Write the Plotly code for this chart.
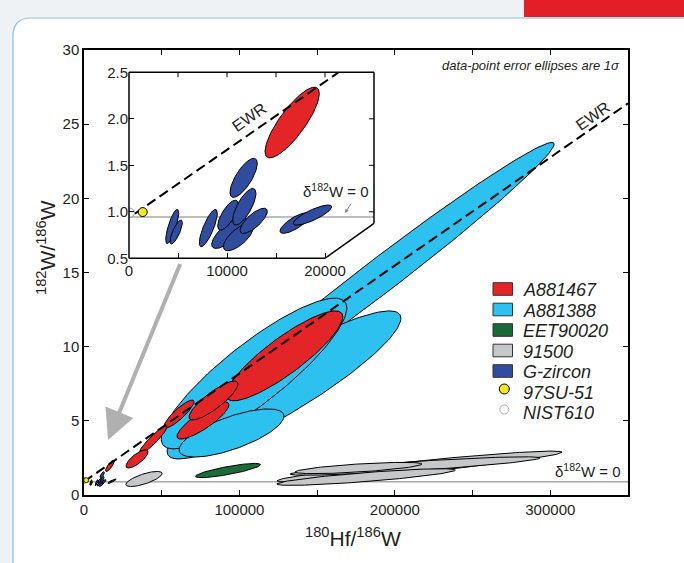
import numpy as np
import plotly.graph_objects as go

# ------------------------------------------------------------------ data
# error ellipses: centre x, centre y, 1-sigma x, 1-sigma y, correlation
# A881467 (red)
a467_x = [129000, 76560, 83320, 61120, 44390, 34100, 16650]
a467_y = [9.38, 5.02, 6.37, 5.46, 3.71, 2.43, 1.96]
a467_sx = [37510, 16730, 15760, 9650, 9010, 7075, 2770]
a467_sy = [3.03, 1.25, 1.31, 0.94, 0.945, 0.61, 0.38]
a467_rho = [0.87, 0.85, 0.85, 0.88, 0.93, 0.77, 0.82]

# A881388 (light blue)
a388_x = [190450, 128680, 109380, 94900]
a388_y = [14.76, 7.42, 8.19, 4.18]
a388_sx = [112020, 75210, 59710, 33780]
a388_sy = [9.01, 4.99, 5.08, 1.62]
a388_rho = [0.987, 0.90, 0.868, 0.70]

# EET90020 (green)
eet_x = [92650]
eet_y = [1.65]
eet_sx = [20910]
eet_sy = [0.48]
eet_rho = [0.82]

# 91500 (grey)
z915_x = [38600, 215860, 212970, 181440, 176610]
z915_y = [1.08, 1.92, 1.955, 1.21, 1.82]
z915_sx = [11650, 91690, 80430, 57460, 40860]
z915_sy = [0.51, 1.04, 0.62, 0.56, 0.38]
z915_rho = [0.72, 0.93, 0.87, 0.84, 0.70]

# G-zircon (dark blue)
gz_x = [4408, 4811, 8092, 10220, 11156, 10102, 11766, 11699, 12720, 16939, 18725]
gz_y = [0.842, 0.782, 0.825, 0.776, 0.728, 0.964, 1.054, 1.365, 0.903, 0.879, 0.965]
gz_sx = [663, 628, 918, 1786, 1530, 1051, 1188, 1393, 1393, 1531, 1960]
gz_sy = [0.184, 0.129, 0.201, 0.17, 0.147, 0.161, 0.197, 0.21, 0.135, 0.111, 0.108]
gz_rho = [0.77, 0.78, 0.79, 0.75, 0.70, 0.72, 0.73, 0.74, 0.75, 0.77, 0.82]

# single points
su_x, su_y = [1400], [0.997]          # 97SU-51
nist_x, nist_y = [100], [0.99]        # NIST610

# reference lines
ewr_main_x = [0, 350000]
ewr_main_y = [0.90, 26.4]
ewr_inset_x = [600, 21400]
ewr_inset_y = [0.98, 2.5]
delta_main_y = 0.90
delta_inset_y = 0.945

legend_names = ["A881467", "A881388", "EET90020", "91500", "G-zircon", "97SU-51", "NIST610"]

main_xticks = [0, 100000, 200000, 300000]
main_xminor = [50000, 150000, 250000, 350000]
main_yticks = [0, 5, 10, 15, 20, 25, 30]
inset_xticks = [0, 10000, 20000]
inset_xminor = [5000, 15000]
inset_yticks = [0.5, 1.0, 1.5, 2.0, 2.5]

# ------------------------------------------------------------------ style
RED = "#e42527"
LBLUE = "#2cc1ef"
GREEN = "#1b6b3a"
GREY = "#c5c7c9"
DBLUE = "#2f4c9f"
YELLOW = "#f2e81c"
FONT = "Liberation Sans, Arial, sans-serif"
TXT = "#231f20"

W, H = 684, 563
L, R, T, B = 84, 628, 50, 495          # main plot area in pixels


def px(xp):
    return (xp - L) / (R - L)


def py(yp):
    return (B - yp) / (B - T)


# inset box in pixels
IL, IR, IT, IB = 129, 374, 72.3, 258.3
I_BOTTOM_END = 325      # bottom axis stops at x = 20000
I_RIGHT_END = 223.3     # right side stops here, bevel to bottom

fig = go.Figure()

t = np.linspace(0, 2 * np.pi, 160)


def add_ellipses(cx, cy, sx, sy, rho, color, xa="x", ya="y"):
    for i in range(len(cx)):
        r = rho[i]
        ex = cx[i] + sx[i] * np.cos(t)
        ey = cy[i] + sy[i] * (r * np.cos(t) + np.sqrt(1 - r * r) * np.sin(t))
        fig.add_trace(go.Scatter(
            x=ex, y=ey, mode="lines", fill="toself", fillcolor=color,
            line=dict(color="black", width=1), xaxis=xa, yaxis=ya,
            hoverinfo="skip", showlegend=False))


# main panel ---------------------------------------------------------
fig.add_trace(go.Scatter(x=[0, 350000], y=[delta_main_y, delta_main_y], mode="lines",
                         line=dict(color="#a8a8a8", width=1.5), showlegend=False, hoverinfo="skip"))
add_ellipses(z915_x, z915_y, z915_sx, z915_sy, z915_rho, GREY)
add_ellipses(eet_x, eet_y, eet_sx, eet_sy, eet_rho, GREEN)
add_ellipses(a388_x, a388_y, a388_sx, a388_sy, a388_rho, LBLUE)
add_ellipses(a467_x, a467_y, a467_sx, a467_sy, a467_rho, RED)
add_ellipses(gz_x, gz_y, gz_sx, gz_sy, gz_rho, DBLUE)
fig.add_trace(go.Scatter(x=ewr_main_x, y=ewr_main_y, mode="lines",
                         line=dict(color="black", width=2, dash="10px,5px"),
                         showlegend=False, hoverinfo="skip"))
fig.add_trace(go.Scatter(x=nist_x, y=nist_y, mode="markers",
                         marker=dict(size=6, color="white", line=dict(color="#888", width=1)),
                         showlegend=False, hoverinfo="skip"))
fig.add_trace(go.Scatter(x=su_x, y=su_y, mode="markers",
                         marker=dict(size=5, color=YELLOW, line=dict(color="black", width=0.8)),
                         showlegend=False, hoverinfo="skip"))

# inset panel --------------------------------------------------------
fig.add_trace(go.Scatter(x=[0, 25000], y=[delta_inset_y, delta_inset_y], mode="lines",
                         line=dict(color="#a8a8a8", width=1.5), xaxis="x2", yaxis="y2",
                         showlegend=False, hoverinfo="skip"))
add_ellipses(a467_x[-1:], a467_y[-1:], a467_sx[-1:], a467_sy[-1:], a467_rho[-1:], RED, "x2", "y2")
add_ellipses(gz_x, gz_y, gz_sx, gz_sy, gz_rho, DBLUE, "x2", "y2")
fig.add_trace(go.Scatter(x=ewr_inset_x, y=ewr_inset_y, mode="lines",
                         line=dict(color="black", width=2, dash="10px,5px"),
                         xaxis="x2", yaxis="y2", showlegend=False, hoverinfo="skip"))
fig.add_trace(go.Scatter(x=nist_x, y=nist_y, mode="markers", xaxis="x2", yaxis="y2",
                         marker=dict(size=9, color="white", line=dict(color="#999", width=1)),
                         showlegend=False, hoverinfo="skip"))
fig.add_trace(go.Scatter(x=su_x, y=su_y, mode="markers", xaxis="x2", yaxis="y2",
                         marker=dict(size=9, color=YELLOW, line=dict(color="black", width=1)),
                         showlegend=False, hoverinfo="skip"))

# ------------------------------------------------------------------ shapes
shapes = []
# card background with rounded top-left corner
r = 18
cl, ct = 13, 18
shapes.append(dict(
    type="path", xref="paper", yref="paper", layer="below",
    path=(f"M {px(cl)},{py(600)} L {px(cl)},{py(ct + r)} "
          f"Q {px(cl)},{py(ct)} {px(cl + r)},{py(ct)} L {px(720)},{py(ct)} "
          f"L {px(720)},{py(600)} Z"),
    fillcolor="white", line=dict(color="#8ec0dc", width=1.2)))
# red bar at top right
shapes.append(dict(type="rect", xref="paper", yref="paper", layer="below",
                   x0=px(524), x1=px(690), y0=py(-5), y1=py(17),
                   fillcolor="#e41e26", line=dict(width=0)))


def seg(x0, y0, x1, y1, w=1.5, c="black"):
    shapes.append(dict(type="line", xref="paper", yref="paper",
                       x0=px(x0), y0=py(y0), x1=px(x1), y1=py(y1),
                       line=dict(color=c, width=w)))


# inset frame
seg(IL, IT, IR, IT)
seg(IL, IT, IL, IB)
seg(IL, IB, I_BOTTOM_END, IB)
seg(IR, IT, IR, I_RIGHT_END)
seg(IR, I_RIGHT_END, I_BOTTOM_END, IB)
# inset mirrored ticks (top and right)
for xv in [5000, 10000, 15000, 20000]:
    xp = IL + (IR - IL) * xv / 25000
    seg(xp, IT, xp, IT + 5, w=1)
for yv in inset_yticks[1:4]:
    yp = IB - (IB - IT) * (yv - 0.5) / 2.0
    seg(IR, yp, IR - 5, yp, w=1)

# manual legend swatches
leg_colors = [RED, LBLUE, GREEN, GREY, DBLUE]
leg_rows = [290, 310.5, 331, 351.5, 372, 392.5, 413]
for i, c in enumerate(leg_colors):
    yc = leg_rows[i] - 1
    shapes.append(dict(type="rect", xref="paper", yref="paper",
                       x0=px(493), x1=px(512.5), y0=py(yc + 6.3), y1=py(yc - 6.3),
                       fillcolor=c, line=dict(color="#333", width=1)))
for i, (c, lc, d) in enumerate([(YELLOW, "black", 10), ("white", "#aaa", 9)]):
    yc = leg_rows[5 + i] - 3.5
    shapes.append(dict(type="circle", xref="paper", yref="paper",
                       x0=px(504.3 - d / 2), x1=px(504.3 + d / 2),
                       y0=py(yc + d / 2), y1=py(yc - d / 2),
                       fillcolor=c, line=dict(color=lc, width=1)))

# ------------------------------------------------------------------ annotations
ann = []


def text(xp, yp, s, size, xanchor="center", angle=0, italic=False, color=TXT):
    if italic:
        s = f"<i>{s}</i>"
    ann.append(dict(x=px(xp), y=py(yp), xref="paper", yref="paper", text=s,
                    showarrow=False, xanchor=xanchor, yanchor="middle",
                    textangle=angle, font=dict(family=FONT, size=size, color=color)))


text(46, 248, "<sup>182</sup>W/<sup>186</sup>W", 21, angle=-90)
text(353, 537, "<sup>180</sup>Hf/<sup>186</sup>W", 21)
text(622, 66, "data-point error ellipses are 1σ", 13, xanchor="right", italic=True)
text(592, 116, "EWR", 16, angle=-35)
text(249, 118, "EWR", 16, angle=-35)
text(623, 470, "δ<sup>182</sup>W = 0", 15, xanchor="right")
text(371, 190, "δ<sup>182</sup>W = 0", 15, xanchor="right")
for i, name in enumerate(legend_names):
    text(521, leg_rows[i], name, 18, xanchor="left", italic=True)

# big grey arrow towards the origin cluster
ann.append(dict(x=px(108), y=py(440), xref="paper", yref="paper", text=" ",
                showarrow=True, ax=73, ay=-178, axref="pixel", ayref="pixel",
                arrowhead=2, arrowsize=1.5, arrowwidth=4, arrowcolor="#b0b0b0",
                font=dict(size=1)))
# small arrow to delta line in the inset
ann.append(dict(x=px(345), y=py(213), xref="paper", yref="paper", text=" ",
                showarrow=True, ax=7, ay=-11, arrowhead=2, arrowsize=0.8,
                arrowwidth=1, arrowcolor="#888", font=dict(size=1)))

# ------------------------------------------------------------------ layout
tickfont = dict(family=FONT, size=15, color=TXT)
tick_common = dict(ticks="inside", ticklen=5, tickwidth=1, tickcolor="black",
                   showgrid=False, zeroline=False, tickfont=tickfont)
fig.update_layout(
    width=W, height=H, margin=dict(l=L, r=W - R, t=T, b=H - B),
    paper_bgcolor="#eef2f4", plot_bgcolor="white", showlegend=False,
    shapes=shapes, annotations=ann,
    xaxis=dict(range=[0, 350000], tickmode="array", tickvals=main_xticks,
               ticktext=[str(v) for v in main_xticks],
               minor=dict(tickmode="array", tickvals=main_xminor, ticks="inside",
                          ticklen=5, tickwidth=1, tickcolor="black", showgrid=False),
               showline=True, linecolor="black", linewidth=1.5, mirror="ticks",
               **tick_common),
    yaxis=dict(range=[0, 30], tickmode="array", tickvals=main_yticks,
               ticktext=[str(v) for v in main_yticks],
               showline=True, linecolor="black", linewidth=1.5, mirror="ticks",
               **tick_common),
    xaxis2=dict(domain=[px(IL), px(IR)], anchor="y2", range=[0, 25000],
                tickmode="array", tickvals=inset_xticks,
                ticktext=[str(v) for v in inset_xticks],
                minor=dict(tickmode="array", tickvals=inset_xminor, ticks="inside",
                           ticklen=5, tickwidth=1, tickcolor="black", showgrid=False),
                ticklabelstandoff=2, showline=False, **tick_common),
    yaxis2=dict(domain=[py(IB), py(IT)], anchor="x2", range=[0.5, 2.5],
                tickmode="array", tickvals=inset_yticks,
                ticktext=[f"{v:.1f}" for v in inset_yticks],
                showline=False, **tick_common),
)

fig.write_html("out.html")
